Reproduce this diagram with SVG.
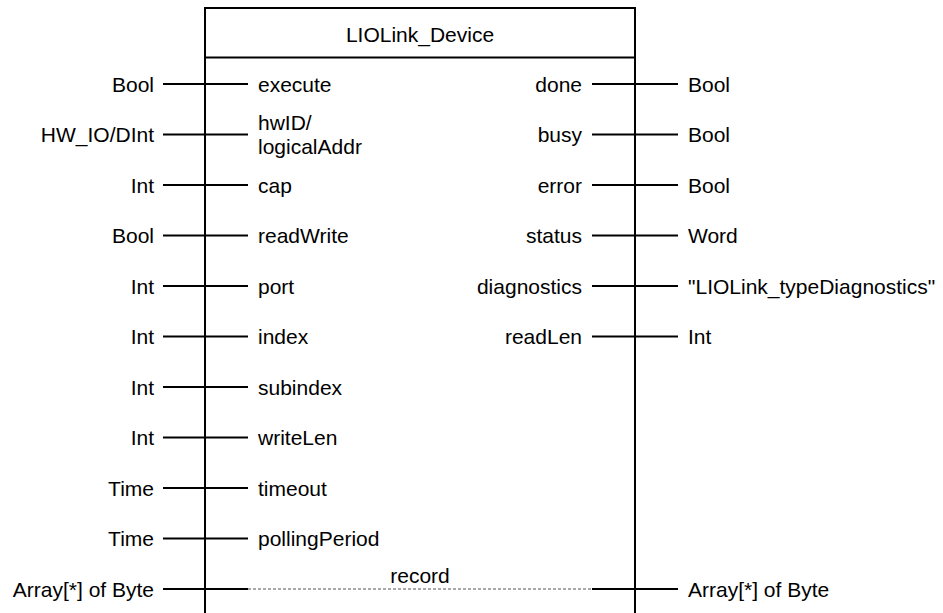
<svg xmlns="http://www.w3.org/2000/svg" width="943" height="613" viewBox="0 0 943 613">
<style>
text { font-family: "Liberation Sans", Arial, sans-serif; font-size: 21px; fill: #000; }
.r { text-anchor: end; }
.m { text-anchor: middle; }
.w { stroke: #000; stroke-width: 2; fill: none; }
.d { stroke: #555; stroke-width: 1.2; stroke-dasharray: 3 2; fill: none; }
</style>
<rect width="943" height="613" fill="#fff"/>
<g id="block">
<path class="w" d="M205 613 V8 H635 V613 M205 57.5 H635"/>
<text class="m" x="420" y="42">LIOLink_Device</text>
</g>
<g id="connectors">
<path class="w" d="M163 84 H248 M163 134.5 H248 M163 185 H248 M163 235.5 H248 M163 286 H248 M163 336.5 H248 M163 387 H248 M163 437.5 H248 M163 488 H248 M163 538.5 H248 M163 589 H248"/>
<path class="w" d="M592 84 H678 M592 134.5 H678 M592 185 H678 M592 235.5 H678 M592 286 H678 M592 336.5 H678 M592 589 H678"/>
<path class="d" d="M248 589 H592"/>
</g>
<g id="inputs">
<g id="in-execute"><text class="r" x="154" y="91.5">Bool</text><text x="258" y="91.5">execute</text></g>
<g id="in-hwID"><text class="r" x="154" y="142">HW_IO/DInt</text><text x="258" y="130">hwID/</text><text x="258" y="154">logicalAddr</text></g>
<g id="in-cap"><text class="r" x="154" y="192.5">Int</text><text x="258" y="192.5">cap</text></g>
<g id="in-readWrite"><text class="r" x="154" y="243">Bool</text><text x="258" y="243">readWrite</text></g>
<g id="in-port"><text class="r" x="154" y="293.5">Int</text><text x="258" y="293.5">port</text></g>
<g id="in-index"><text class="r" x="154" y="344">Int</text><text x="258" y="344">index</text></g>
<g id="in-subindex"><text class="r" x="154" y="394.5">Int</text><text x="258" y="394.5">subindex</text></g>
<g id="in-writeLen"><text class="r" x="154" y="445">Int</text><text x="258" y="445">writeLen</text></g>
<g id="in-timeout"><text class="r" x="154" y="495.5">Time</text><text x="258" y="495.5">timeout</text></g>
<g id="in-pollingPeriod"><text class="r" x="154" y="546">Time</text><text x="258" y="546">pollingPeriod</text></g>
<g id="inout-record"><text class="r" x="154" y="596.5">Array[*] of Byte</text><text class="m" x="420" y="583">record</text><text x="688" y="596.5">Array[*] of Byte</text></g>
</g>
<g id="outputs">
<g id="out-done"><text class="r" x="582" y="91.5">done</text><text x="688" y="91.5">Bool</text></g>
<g id="out-busy"><text class="r" x="582" y="142">busy</text><text x="688" y="142">Bool</text></g>
<g id="out-error"><text class="r" x="582" y="192.5">error</text><text x="688" y="192.5">Bool</text></g>
<g id="out-status"><text class="r" x="582" y="243">status</text><text x="688" y="243">Word</text></g>
<g id="out-diagnostics"><text class="r" x="582" y="293.5">diagnostics</text><text x="688" y="293.5">"LIOLink_typeDiagnostics"</text></g>
<g id="out-readLen"><text class="r" x="582" y="344">readLen</text><text x="688" y="344">Int</text></g>
</g>
</svg>
